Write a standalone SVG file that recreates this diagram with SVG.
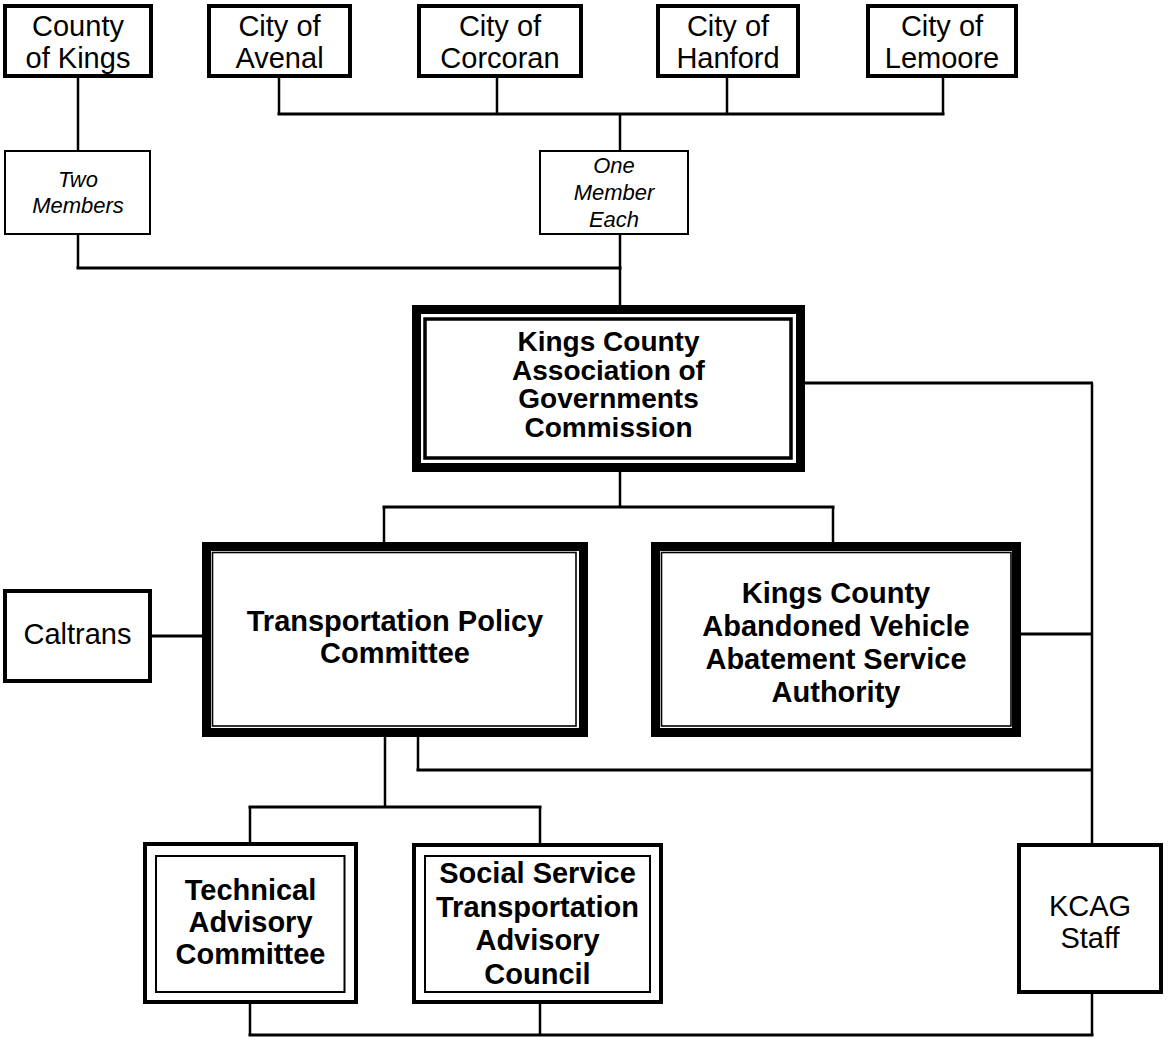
<svg xmlns="http://www.w3.org/2000/svg" width="1168" height="1040" viewBox="0 0 1168 1040">
<style>
  .bg{fill:#fff}
  .box{fill:#fff;stroke:#000;stroke-width:4}
  .thin{fill:#fff;stroke:#000;stroke-width:2}
  .band{fill:#fff;stroke:#000;stroke-width:9}
  .inner{fill:none;stroke:#000;stroke-width:3.5}
  .inner2{fill:none;stroke:#000;stroke-width:1.6}
  .inner3{fill:none;stroke:#000;stroke-width:2}
  .t{font-family:"Liberation Sans",Arial,sans-serif;font-size:29px;text-anchor:middle;fill:#000}
  .b{font-weight:bold}
  .s{font-size:28px}
  .i{font-style:italic;font-size:22px}
  .c line{stroke:#000;fill:none}
  .h{stroke-width:3}
  .v{stroke-width:2.5}
</style>
<rect class="bg" x="0" y="0" width="1168" height="1040"/>

<g id="connectors" class="c">
  <line class="v" x1="78" y1="78" x2="78" y2="151"/>
  <line class="v" x1="78" y1="234" x2="78" y2="268"/>
  <line class="h" x1="76.5" y1="268" x2="621.5" y2="268"/>
  <line class="h" x1="277.5" y1="114" x2="944.5" y2="114"/>
  <line class="v" x1="279" y1="78" x2="279" y2="114"/>
  <line class="v" x1="497" y1="78" x2="497" y2="114"/>
  <line class="v" x1="727" y1="78" x2="727" y2="114"/>
  <line class="v" x1="943" y1="78" x2="943" y2="114"/>
  <line class="v" x1="620" y1="114" x2="620" y2="151"/>
  <line class="v" x1="620" y1="234" x2="620" y2="306"/>
  <line class="v" x1="620" y1="471" x2="620" y2="507"/>
  <line class="h" x1="382.5" y1="507" x2="834.5" y2="507"/>
  <line class="v" x1="384" y1="507" x2="384" y2="543"/>
  <line class="v" x1="833" y1="507" x2="833" y2="543"/>
  <line class="h" x1="805" y1="383" x2="1093" y2="383"/>
  <line class="v" x1="1092" y1="383" x2="1092" y2="844"/>
  <line class="h" x1="1020" y1="634" x2="1092" y2="634"/>
  <line class="v" x1="418" y1="736" x2="418" y2="771"/>
  <line class="h" x1="416.5" y1="770" x2="1092" y2="770"/>
  <line class="v" x1="385" y1="736" x2="385" y2="807"/>
  <line class="h" x1="248.5" y1="807" x2="541.5" y2="807"/>
  <line class="v" x1="250" y1="807" x2="250" y2="843"/>
  <line class="v" x1="540" y1="807" x2="540" y2="843"/>
  <line class="h" x1="152" y1="636" x2="203" y2="636"/>
  <line class="v" x1="250" y1="1003" x2="250" y2="1035"/>
  <line class="v" x1="540" y1="1003" x2="540" y2="1035"/>
  <line class="v" x1="1092" y1="993" x2="1092" y2="1035"/>
  <line class="h" x1="248.5" y1="1035" x2="1093.5" y2="1035"/>
</g>

<g id="county-of-kings">
  <rect class="box" x="5" y="6" width="146" height="70"/>
  <text class="t" x="78" y="36">County</text>
  <text class="t" x="78" y="68">of Kings</text>
</g>
<g id="city-of-avenal">
  <rect class="box" x="209" y="6" width="141" height="70"/>
  <text class="t" x="279.5" y="36">City of</text>
  <text class="t" x="279.5" y="68">Avenal</text>
</g>
<g id="city-of-corcoran">
  <rect class="box" x="419" y="6" width="162" height="70"/>
  <text class="t" x="500" y="36">City of</text>
  <text class="t" x="500" y="68">Corcoran</text>
</g>
<g id="city-of-hanford">
  <rect class="box" x="658" y="6" width="140" height="70"/>
  <text class="t" x="728" y="36">City of</text>
  <text class="t" x="728" y="68">Hanford</text>
</g>
<g id="city-of-lemoore">
  <rect class="box" x="868" y="6" width="148" height="70"/>
  <text class="t" x="942" y="36">City of</text>
  <text class="t" x="942" y="68">Lemoore</text>
</g>

<g id="two-members">
  <rect class="thin" x="5" y="151" width="145" height="83"/>
  <text class="t i" x="78" y="187">Two</text>
  <text class="t i" x="78" y="213">Members</text>
</g>
<g id="one-member-each">
  <rect class="thin" x="540" y="151" width="148" height="83"/>
  <text class="t i" x="614" y="173">One</text>
  <text class="t i" x="614" y="200">Member</text>
  <text class="t i" x="614" y="227">Each</text>
</g>

<g id="kcag-commission">
  <rect class="band" x="416.5" y="309.5" width="384" height="158"/>
  <rect class="inner" x="425" y="319" width="366" height="139"/>
  <text class="t b s" x="608.5" y="351">Kings County</text>
  <text class="t b s" x="608.5" y="379.5">Association of</text>
  <text class="t b s" x="608.5" y="408">Governments</text>
  <text class="t b s" x="608.5" y="436.5">Commission</text>
</g>

<g id="transportation-policy-committee">
  <rect class="band" x="206.5" y="546.5" width="377" height="186"/>
  <rect class="inner2" x="212.5" y="552.5" width="363.5" height="173.5"/>
  <text class="t b" x="395" y="631">Transportation Policy</text>
  <text class="t b" x="395" y="663">Committee</text>
</g>

<g id="kcavasa">
  <rect class="band" x="655.5" y="546.5" width="361" height="186"/>
  <rect class="inner2" x="661.5" y="552.5" width="349.5" height="173.5"/>
  <text class="t b" x="836" y="603">Kings County</text>
  <text class="t b" x="836" y="636">Abandoned Vehicle</text>
  <text class="t b" x="836" y="669">Abatement Service</text>
  <text class="t b" x="836" y="702">Authority</text>
</g>

<g id="caltrans">
  <rect class="box" x="5" y="591" width="145" height="90"/>
  <text class="t" x="77.5" y="644">Caltrans</text>
</g>

<g id="technical-advisory-committee">
  <rect class="box" x="145" y="844" width="211" height="158"/>
  <rect class="inner3" x="156" y="856" width="188.5" height="136"/>
  <text class="t b" x="250.5" y="900">Technical</text>
  <text class="t b" x="250.5" y="932">Advisory</text>
  <text class="t b" x="250.5" y="964">Committee</text>
</g>

<g id="sstac">
  <rect class="box" x="414" y="845" width="247" height="157"/>
  <rect class="inner3" x="425" y="856" width="225" height="136"/>
  <text class="t b" x="537.5" y="883">Social Service</text>
  <text class="t b" x="537.5" y="917">Transportation</text>
  <text class="t b" x="537.5" y="950">Advisory</text>
  <text class="t b" x="537.5" y="984">Council</text>
</g>

<g id="kcag-staff">
  <rect class="box" x="1019" y="845" width="142" height="147"/>
  <text class="t" x="1090" y="916">KCAG</text>
  <text class="t" x="1090" y="948">Staff</text>
</g>
</svg>
